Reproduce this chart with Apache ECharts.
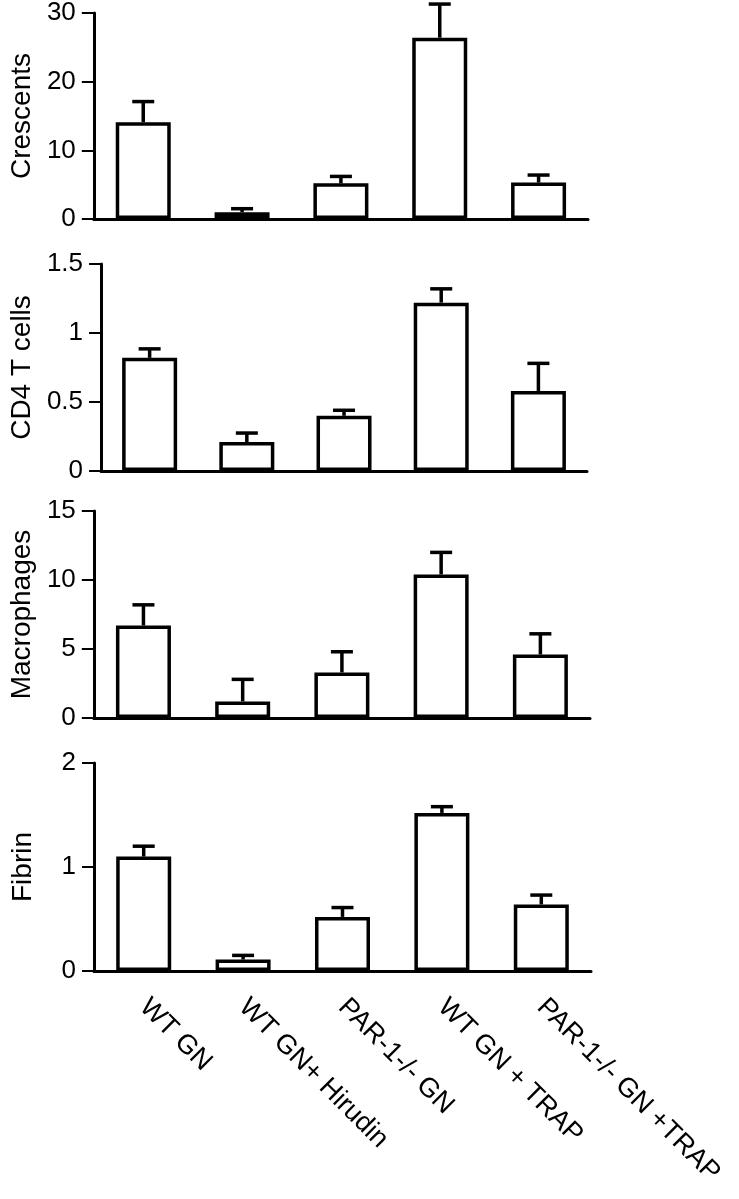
<!DOCTYPE html>
<html>
<head>
<meta charset="utf-8">
<script src="https://cdn.jsdelivr.net/npm/echarts@6/dist/echarts.min.js"></script>
<style>
  html, body { margin: 0; padding: 0; background: #fff; }
  #chart { width: 739px; height: 1199px; }
</style>
</head>
<body>
<div id="chart"></div>
<script>
// ---- data ----
const categories = ['WT GN', 'WT GN+ Hirudin', 'PAR-1-/- GN', 'WT GN + TRAP', 'PAR-1-/- GN +TRAP'];

const crescents = [14.1, 1.0, 5.2, 26.4, 5.3];
const crescentsErr = [3.0, 0.5, 1.0, 4.9, 1.1];

const cd4 = [0.82, 0.21, 0.40, 1.22, 0.58];
const cd4Err = [0.065, 0.065, 0.04, 0.10, 0.20];

const macrophages = [6.7, 1.2, 3.3, 10.4, 4.6];
const macrophagesErr = [1.5, 1.6, 1.5, 1.6, 1.5];

const fibrin = [1.1, 0.11, 0.52, 1.52, 0.64];
const fibrinErr = [0.1, 0.04, 0.09, 0.06, 0.09];

const panelNames = ['Crescents', 'CD4 T cells', 'Macrophages', 'Fibrin'];
const yMax = [30, 1.5, 15, 2];
const yInterval = [10, 0.5, 5, 1];

// ---- layout ----
const FONT = 'Liberation Sans, Arial, Helvetica, sans-serif';
const grids = [
  { left: 91, top: 13, width: 497, height: 206 },
  { left: 90, top: 264, width: 497, height: 207 },
  { left: 93, top: 511, width: 497, height: 207 },
  { left: 94, top: 763, width: 497, height: 208 }
];

const values = [crescents, cd4, macrophages, fibrin];
const errs = [crescentsErr, cd4Err, macrophagesErr, fibrinErr];

const option = {
  animation: false,
  backgroundColor: '#ffffff',
  grid: grids,
  xAxis: grids.map((g, i) => ({
    type: 'category',
    gridIndex: i,
    data: categories,
    axisLine: { show: true, lineStyle: { color: '#000', width: 3 } },
    axisTick: { show: false },
    axisLabel: i === 3 ? {
      show: true, rotate: -45, interval: 0, color: '#000',
      fontFamily: FONT, fontSize: 27, margin: 32
    } : { show: false },
    splitLine: { show: false }
  })),
  yAxis: grids.map((g, i) => ({
    type: 'value',
    gridIndex: i,
    min: 0,
    max: yMax[i],
    interval: yInterval[i],
    name: panelNames[i],
    nameLocation: 'middle',
    nameGap: 57,
    nameTextStyle: { color: '#000', fontFamily: FONT, fontSize: 28 },
    axisLine: { show: true, lineStyle: { color: '#000', width: 3 } },
    axisTick: { show: true, length: 12, lineStyle: { color: '#000', width: 2 } },
    axisLabel: { color: '#000', fontFamily: FONT, fontSize: 26, margin: 18 },
    splitLine: { show: false }
  })),
  series: []
};

values.forEach((vals, i) => {
  option.series.push({
    type: 'bar',
    xAxisIndex: i,
    yAxisIndex: i,
    data: vals,
    barWidth: 55,
    itemStyle: { color: '#fff', borderColor: '#000', borderWidth: 3.5 },
    z: 3
  });
  option.series.push({
    type: 'custom',
    xAxisIndex: i,
    yAxisIndex: i,
    data: vals.map((v, k) => [k, v, v + errs[i][k]]),
    z: 4,
    renderItem: function (params, api) {
      const base = api.coord([api.value(0), api.value(1)]);
      const top = api.coord([api.value(0), api.value(2)]);
      const half = 11;
      const st = { stroke: '#000', lineWidth: 3.5, fill: null };
      return {
        type: 'group',
        children: [
          { type: 'line', shape: { x1: base[0], y1: base[1], x2: top[0], y2: top[1] }, style: st },
          { type: 'line', shape: { x1: top[0] - half, y1: top[1], x2: top[0] + half, y2: top[1] }, style: st }
        ]
      };
    }
  });
});

const chart = echarts.init(document.getElementById('chart'), null, { renderer: 'canvas' });
chart.setOption(option);
</script>
</body>
</html>
